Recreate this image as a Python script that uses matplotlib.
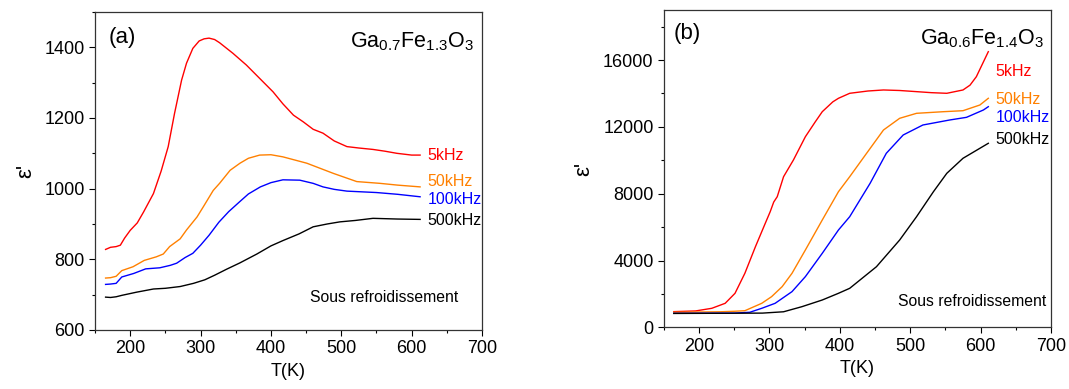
import matplotlib
matplotlib.use("Agg")
import matplotlib.pyplot as plt
from matplotlib.ticker import MultipleLocator

plt.rcParams['font.family'] = ['Liberation Sans', 'DejaVu Sans']
plt.rcParams['mathtext.default'] = 'regular'

# ---------------- Panel (a): Ga0.7Fe1.3O3 ----------------
a_T_5k = [165, 172, 180, 186, 192, 200, 210, 219, 233, 244, 254, 263, 273, 280, 289, 298, 305, 312, 320, 327, 346, 365, 384, 403, 417, 432, 446, 460, 474, 490, 508, 525, 545, 562, 579, 600, 612]
a_5k = [828, 834, 836, 840, 860, 882, 903, 934, 986, 1050, 1119, 1213, 1307, 1355, 1397, 1418, 1424, 1426, 1422, 1413, 1383, 1350, 1312, 1274, 1240, 1208, 1189, 1168, 1157, 1135, 1119, 1115, 1111, 1106, 1100, 1095, 1095]

a_T_50k = [165, 172, 180, 188, 204, 220, 237, 247, 256, 271, 280, 295, 304, 318, 327, 342, 356, 368, 384, 400, 417, 451, 489, 522, 555, 580, 612]
a_50k = [747, 748, 752, 768, 779, 797, 807, 815, 836, 858, 883, 920, 949, 995, 1015, 1052, 1072, 1086, 1095, 1096, 1090, 1072, 1043, 1020, 1015, 1010, 1005]

a_T_100k = [165, 172, 180, 188, 205, 222, 242, 257, 266, 278, 289, 300, 312, 326, 340, 355, 368, 385, 400, 417, 441, 460, 474, 490, 508, 550, 580, 612]
a_100k = [729, 730, 732, 750, 760, 773, 776, 783, 789, 805, 817, 840, 868, 905, 935, 962, 985, 1005, 1017, 1025, 1024, 1015, 1005, 998, 993, 989, 984, 977]

a_T_500k = [165, 172, 180, 188, 209, 233, 250, 271, 290, 306, 320, 337, 356, 380, 400, 417, 440, 460, 480, 498, 520, 545, 580, 612]
a_500k = [693, 692, 694, 698, 707, 716, 718, 723, 732, 742, 755, 772, 790, 815, 838, 853, 872, 892, 900, 906, 910, 916, 914, 913]

# ---------------- Panel (b): Ga0.6Fe1.4O3 ----------------
b_T_5k = [164, 195, 218, 237, 251, 265, 280, 294, 301, 306, 311, 320, 334, 351, 365, 375, 390, 398, 414, 440, 462, 485, 509, 530, 552, 575, 585, 594, 603, 611]
b_5k = [938, 980, 1138, 1437, 2036, 3234, 4826, 6228, 6922, 7500, 7820, 9018, 10018, 11413, 12300, 12910, 13500, 13713, 14012, 14150, 14211, 14180, 14111, 14050, 14012, 14211, 14500, 15006, 15800, 16504]

b_T_50k = [164, 230, 250, 265, 289, 303, 318, 332, 351, 375, 398, 414, 438, 462, 485, 509, 547, 575, 599, 611]
b_50k = [900, 930, 960, 994, 1437, 1836, 2435, 3234, 4629, 6425, 8120, 9018, 10419, 11814, 12515, 12814, 12910, 12970, 13311, 13713]

b_T_100k = [164, 250, 272, 289, 308, 332, 351, 375, 398, 414, 443, 466, 490, 518, 556, 580, 604, 611]
b_100k = [838, 850, 900, 1138, 1437, 2136, 3035, 4431, 5826, 6623, 8623, 10419, 11515, 12114, 12413, 12573, 13012, 13210]

b_T_500k = [164, 290, 320, 346, 375, 398, 414, 452, 485, 509, 533, 552, 575, 611]
b_500k = [830, 850, 930, 1234, 1635, 2036, 2335, 3628, 5227, 6623, 8120, 9221, 10120, 11018]

freq_labels = ['5kHz', '50kHz', '100kHz', '500kHz']
colors = ['#ff0000', '#ff8000', '#0000ff', '#000000']

a_label_x = 623
a_label_y = [1095, 1020, 968, 909]
b_label_x = 621
b_label_y = [15300, 13650, 12575, 11260]

fig = plt.figure(figsize=(10.69, 3.89), dpi=100)
axa = fig.add_axes([0.0889, 0.1517, 0.362, 0.8175])
axb = fig.add_axes([0.6211, 0.1586, 0.362, 0.8157])


def style(ax):
    ax.tick_params(which='both', direction='out', top=False, right=False,
                   labelsize=13, width=0.8)
    ax.tick_params(which='major', length=4)
    ax.tick_params(which='minor', length=2.5)
    for s in ax.spines.values():
        s.set_linewidth(0.9)
        s.set_color('#333333')
    ax.set_xlim(150, 700)
    ax.xaxis.set_major_locator(MultipleLocator(100))
    ax.xaxis.set_minor_locator(MultipleLocator(50))
    ax.set_xlabel('T(K)', fontsize=13, labelpad=4)
    ax.set_ylabel("ε'", fontsize=16, labelpad=6)


# Panel a
for T, v, c in [(a_T_5k, a_5k, colors[0]), (a_T_50k, a_50k, colors[1]),
                (a_T_100k, a_100k, colors[2]), (a_T_500k, a_500k, colors[3])]:
    axa.plot(T, v, color=c, lw=1.0)
style(axa)
axa.set_ylim(600, 1500)
axa.yaxis.set_major_locator(MultipleLocator(200))
axa.yaxis.set_minor_locator(MultipleLocator(100))
for lab, y, c in zip(freq_labels, a_label_y, colors):
    axa.text(a_label_x, y, lab, color=c, fontsize=11.5, ha='left', va='center')
axa.text(0.036, 0.92, '(a)', transform=axa.transAxes, fontsize=16, ha='left', va='center')
axa.text(0.979, 0.905, r'Ga$_{0.7}$Fe$_{1.3}$O$_3$', transform=axa.transAxes,
         fontsize=15.5, ha='right', va='center')
axa.text(0.939, 0.103, 'Sous refroidissement', transform=axa.transAxes,
         fontsize=11.3, ha='right', va='center')

# Panel b
for T, v, c in [(b_T_5k, b_5k, colors[0]), (b_T_50k, b_50k, colors[1]),
                (b_T_100k, b_100k, colors[2]), (b_T_500k, b_500k, colors[3])]:
    axb.plot(T, v, color=c, lw=1.0)
style(axb)
axb.set_ylim(0, 19000)
axb.yaxis.set_major_locator(MultipleLocator(4000))
axb.yaxis.set_minor_locator(MultipleLocator(2000))
for lab, y, c in zip(freq_labels, b_label_y, colors):
    axb.text(b_label_x, y, lab, color=c, fontsize=11.5, ha='left', va='center')
axb.text(0.026, 0.925, '(b)', transform=axb.transAxes, fontsize=16, ha='left', va='center')
axb.text(0.982, 0.91, r'Ga$_{0.6}$Fe$_{1.4}$O$_3$', transform=axb.transAxes,
         fontsize=15.5, ha='right', va='center')
axb.text(0.987, 0.081, 'Sous refroidissement', transform=axb.transAxes,
         fontsize=11.3, ha='right', va='center')

fig.savefig('out.png', dpi=100)
